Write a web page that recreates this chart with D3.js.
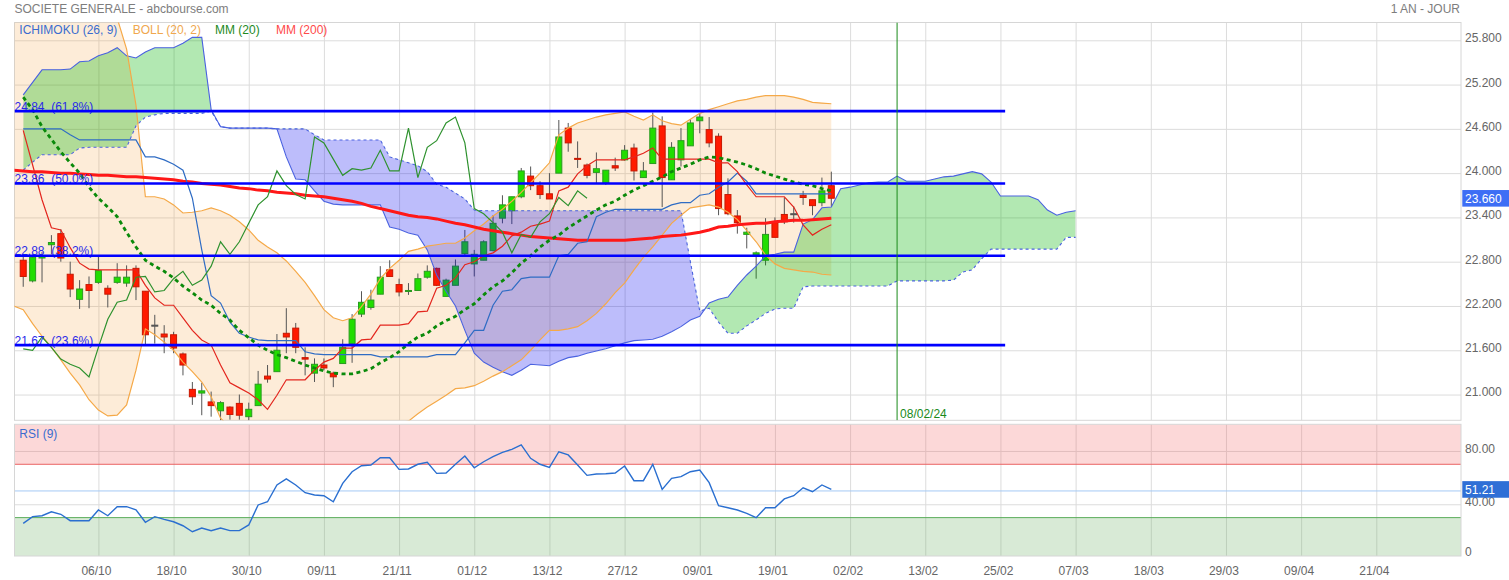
<!DOCTYPE html>
<html><head><meta charset="utf-8">
<script src="https://cdn.jsdelivr.net/npm/d3@7"></script>
<style>
html,body{margin:0;padding:0;background:#fff;}
svg{display:block;font-family:"Liberation Sans",Arial,sans-serif;}
</style></head><body>
<svg id="chart" width="1509" height="580"></svg>
<script>
// ---------------- DATA ----------------
const titleText = "SOCIETE GENERALE - abcbourse.com";
const periodText = "1 AN - JOUR";
const tickLabels = ["06/10","18/10","30/10","09/11","21/11","01/12","13/12","27/12","09/01","19/01","02/02","13/02","25/02","07/03","18/03","29/03","09/04","21/04"];
const tickIndex = [8,16,24,32,40,48,56,64,72,80,88,96,104,112,120,128,136,144];
const priceTicks = [25.8,25.2,24.6,24.0,23.4,22.8,22.2,21.6,21.0];
const rsiTicks = [80,40,0];
const lastPrice = 23.66;
const lastRsi = 51.21;
const markerIndex = 93;
const markerLabel = "08/02/24";
const fibLevels = [24.84,23.86,22.88,21.67];
const fibPct = ["61.8%","50.0%","38.2%","23.6%"];
const fibEndIndex = 104.5;

const open = [22.82,22.54,22.85,23.03,23.18,22.63,22.29,22.49,22.52,22.44,
22.52,22.51,22.71,22.40,21.94,21.82,21.81,21.55,21.07,21.02,
20.90,20.78,20.83,20.88,20.70,20.85,21.25,21.31,21.83,21.90,
21.50,21.29,21.40,21.29,21.42,21.69,22.09,22.18,22.36,22.69,
22.49,22.40,22.41,22.59,22.71,22.33,22.48,22.91,22.77,22.82,
22.95,23.39,23.49,23.68,23.96,23.83,23.72,24.00,24.61,24.20,
24.11,24.01,23.87,24.10,24.18,24.34,23.94,24.13,24.64,23.91,
24.18,24.37,24.71,24.59,24.50,23.71,23.42,23.17,22.89,22.82,
23.33,23.44,23.45,23.70,23.64,23.60,23.83];
const high = [22.88,22.90,22.93,23.16,23.24,22.80,22.55,22.60,22.87,22.48,
22.78,22.75,22.75,22.40,22.08,21.94,21.85,21.57,21.17,21.16,
21.04,20.91,20.84,21.00,20.89,21.32,21.40,21.82,22.17,21.97,
21.64,21.49,21.49,21.31,21.75,22.09,22.40,22.42,22.74,22.82,
22.57,22.51,22.64,22.75,22.72,22.57,22.83,23.23,22.96,23.09,
23.43,23.70,23.68,24.07,24.09,23.89,24.00,24.72,24.68,24.43,
24.13,24.28,24.04,24.21,24.38,24.40,24.15,24.82,24.77,24.42,
24.61,24.73,24.80,24.76,24.54,23.93,23.50,23.26,22.94,23.39,
23.40,23.67,23.55,23.76,23.64,23.94,24.02];
const low = [22.46,22.52,22.52,22.90,22.80,22.32,22.16,22.17,22.50,22.18,
22.50,22.46,22.28,21.67,21.69,21.56,21.56,21.26,20.86,20.72,
20.70,20.65,20.66,20.66,20.65,20.85,21.16,21.31,21.56,21.56,
21.26,21.17,21.33,21.10,21.42,21.43,22.05,22.15,22.36,22.60,
22.33,22.35,22.41,22.57,22.47,22.33,22.48,22.87,22.60,22.82,
22.94,23.32,23.31,23.66,23.77,23.65,23.65,24.00,24.29,24.07,
23.93,23.86,23.84,24.03,24.17,23.90,23.94,24.13,23.54,23.91,
24.09,24.37,24.54,24.35,23.43,23.43,23.18,22.98,22.57,22.75,
23.13,23.31,23.33,23.57,23.43,23.55,23.55];
const close = [22.60,22.86,22.87,23.06,22.85,22.43,22.43,22.41,22.68,22.36,
22.59,22.59,22.46,21.81,21.94,21.78,21.63,21.40,20.97,21.05,
20.85,20.89,20.73,20.72,20.80,21.14,21.21,21.60,21.78,21.64,
21.48,21.41,21.36,21.24,21.64,22.02,22.25,22.28,22.59,22.60,
22.39,22.41,22.57,22.67,22.48,22.55,22.74,23.07,22.90,23.07,
23.32,23.57,23.68,24.03,23.83,23.71,23.65,24.49,24.41,24.19,
23.97,24.06,24.04,24.07,24.31,24.03,24.03,24.61,23.94,24.35,
24.44,24.68,24.76,24.41,23.52,23.45,23.33,23.20,22.92,23.17,
23.13,23.34,23.45,23.67,23.56,23.76,23.66];

const tenkan = [24.58,24.11,23.64,23.26,23.23,22.99,22.78,22.70,22.69,22.69,
22.69,22.69,22.69,22.48,22.31,22.21,22.21,22.04,21.87,21.74,
21.67,21.40,21.16,21.09,21.02,20.93,20.80,20.99,21.20,21.20,
21.20,21.33,21.44,21.49,21.63,21.63,21.74,21.75,21.94,21.94,
21.94,21.96,22.12,22.13,22.44,22.48,22.58,22.76,22.80,22.88,
22.92,23.01,23.15,23.20,23.28,23.31,23.35,23.76,23.81,23.99,
24.10,24.18,24.18,24.18,24.18,24.22,24.27,24.34,24.19,24.19,
24.19,24.19,24.19,24.19,24.14,24.14,24.02,23.84,23.68,23.68,
23.68,23.68,23.54,23.30,23.16,23.24,23.30];
const kijun = [24.60,24.60,24.60,24.60,24.60,24.52,24.45,24.45,24.45,24.45,
24.45,24.45,24.45,24.22,24.22,24.18,24.12,24.04,23.66,22.96,
22.34,22.24,21.98,21.83,21.78,21.74,21.73,21.73,21.73,21.73,
21.58,21.55,21.54,21.54,21.54,21.54,21.54,21.54,21.51,21.51,
21.51,21.51,21.51,21.51,21.54,21.54,21.54,21.70,21.87,21.87,
22.21,22.40,22.42,22.57,22.59,22.59,22.59,22.88,22.90,23.05,
23.07,23.41,23.47,23.51,23.51,23.51,23.51,23.51,23.51,23.57,
23.60,23.60,23.70,23.72,23.81,23.88,24.00,23.89,23.72,23.72,
23.72,23.72,23.72,23.72,23.72,23.72,23.72];
const chikou = [21.62,21.60,21.78,21.64,21.48,21.41,21.36,21.24,21.64,22.02,
22.25,22.28,22.59,22.60,22.39,22.41,22.57,22.67,22.48,22.55,
22.74,23.07,22.90,23.07,23.32,23.57,23.68,24.03,23.83,23.71,
23.65,24.49,24.41,24.19,23.97,24.06,24.04,24.07,24.31,24.03,
24.03,24.61,23.94,24.35,24.44,24.68,24.76,24.41,23.52,23.45,
23.33,23.20,22.92,23.17,23.13,23.34,23.45,23.67,23.56,23.76,
23.66];
const senkouA = [25.06,25.23,25.40,25.40,25.40,25.41,25.51,25.52,25.59,25.63,
25.70,25.59,25.56,25.64,25.70,25.70,25.70,25.76,25.84,25.84,
24.86,24.63,24.61,24.61,24.61,24.61,24.61,24.60,24.22,23.92,
23.91,23.76,23.62,23.58,23.57,23.57,23.57,23.57,23.57,23.27,
23.24,23.19,23.16,22.96,22.62,22.40,22.20,21.87,21.56,21.44,
21.37,21.31,21.26,21.33,21.41,21.40,21.39,21.45,21.50,21.52,
21.56,21.59,21.62,21.66,21.70,21.73,21.74,21.75,21.79,21.85,
21.92,22.01,22.06,22.24,22.29,22.32,22.48,22.62,22.74,22.88,
22.90,22.93,22.93,23.31,23.37,23.53,23.54,23.79,23.81,23.84,
23.87,23.88,23.88,23.96,23.89,23.89,23.89,23.92,23.95,23.96,
23.99,24.02,23.99,23.88,23.69,23.69,23.69,23.69,23.64,23.50,
23.43,23.47,23.49];
const senkouB = [24.04,24.15,24.25,24.25,24.25,24.25,24.34,24.35,24.35,24.35,
24.35,24.35,24.64,24.76,24.79,24.81,24.81,24.81,24.81,24.81,
24.84,24.63,24.61,24.61,24.61,24.61,24.61,24.60,24.60,24.60,
24.60,24.52,24.45,24.45,24.45,24.45,24.45,24.45,24.45,24.22,
24.18,24.14,24.10,24.02,23.85,23.81,23.73,23.65,23.50,23.49,
23.49,23.49,23.49,23.49,23.49,23.49,23.49,23.49,23.49,23.49,
23.49,23.49,23.49,23.49,23.49,23.49,23.49,23.49,23.49,23.49,
23.49,22.80,22.13,22.17,21.98,21.83,21.83,21.93,22.01,22.10,
22.16,22.17,22.17,22.46,22.47,22.47,22.47,22.47,22.47,22.47,
22.47,22.47,22.47,22.54,22.54,22.54,22.54,22.54,22.54,22.55,
22.66,22.69,22.84,22.97,22.97,22.97,22.97,22.97,22.97,22.97,
22.97,23.13,23.13];
// Bollinger bands and MM200 start one bar before the first candle
const bollUpper = [26.6,26.6,26.6,26.55,26.5,26.5,26.45,26.4,26.35,26.3,26.25,26.1,
25.68,24.92,23.68,23.68,23.65,23.57,23.46,23.47,23.49,23.53,
23.49,23.43,23.34,23.23,23.09,23.00,22.92,22.81,22.67,22.52,
22.34,22.15,22.04,22.00,22.04,22.19,22.36,22.57,22.71,22.82,
22.94,22.97,23.01,23.03,23.05,23.05,23.12,23.22,23.31,23.42,
23.51,23.62,23.74,23.87,24.00,24.14,24.52,24.61,24.68,24.72,
24.76,24.79,24.81,24.83,24.77,24.72,24.79,24.71,24.67,24.65,
24.73,24.81,24.86,24.90,24.94,24.98,25.00,25.03,25.05,25.05,
25.05,25.03,25.00,24.96,24.95,24.94];
const bollLower = [22.20,22.15,21.96,21.79,21.64,21.47,21.29,21.13,20.93,20.79,20.71,20.72,
20.86,21.33,21.89,21.81,21.71,21.60,21.44,21.31,21.17,20.97,
20.68,20.55,20.45,20.38,20.32,20.28,20.25,20.22,20.20,20.20,
20.20,20.22,20.25,20.30,20.36,20.42,20.48,20.53,20.58,20.62,
20.64,20.74,20.83,20.91,20.99,21.08,21.09,21.12,21.18,21.25,
21.31,21.39,21.47,21.60,21.74,21.87,21.87,21.89,21.92,22.00,
22.10,22.23,22.38,22.51,22.69,22.86,23.00,23.16,23.32,23.43,
23.53,23.55,23.57,23.54,23.47,23.37,23.22,23.07,22.89,22.77,
22.71,22.69,22.67,22.66,22.63,22.62];
const mm20 = [25.03,24.86,24.63,24.46,24.29,24.14,24.00,23.81,23.66,23.54,
23.41,23.20,23.00,22.82,22.74,22.67,22.58,22.47,22.38,22.28,
22.21,22.10,22.01,21.87,21.77,21.67,21.60,21.54,21.50,21.45,
21.40,21.36,21.32,21.29,21.28,21.28,21.31,21.35,21.43,21.50,
21.58,21.69,21.78,21.83,21.93,22.00,22.06,22.15,22.23,22.35,
22.46,22.54,22.65,22.78,22.88,23.00,23.09,23.16,23.26,23.34,
23.42,23.50,23.57,23.62,23.70,23.77,23.83,23.89,23.95,24.02,
24.07,24.12,24.18,24.22,24.21,24.18,24.15,24.11,24.06,24.00,
23.96,23.92,23.88,23.85,23.83,23.79,23.76];
const mm200 = [24.04,24.03,24.02,24.02,24.01,24.00,24.00,23.99,23.98,23.97,23.97,23.96,
23.95,23.95,23.94,23.93,23.92,23.91,23.89,23.88,23.86,23.85,
23.84,23.82,23.80,23.79,23.77,23.76,23.74,23.73,23.72,23.70,
23.69,23.68,23.66,23.64,23.62,23.59,23.55,23.52,23.49,23.46,
23.43,23.41,23.40,23.38,23.35,23.32,23.30,23.27,23.24,23.22,
23.20,23.18,23.16,23.14,23.13,23.12,23.11,23.10,23.09,23.09,
23.09,23.09,23.09,23.09,23.10,23.11,23.12,23.14,23.15,23.16,
23.18,23.20,23.23,23.27,23.28,23.30,23.31,23.32,23.32,23.34,
23.35,23.36,23.36,23.37,23.38,23.39];
const rsi = [25.7,30.7,31.4,34.4,32.5,27.7,27.7,27.7,35.7,31.4,
38.2,38.2,35.9,26.5,30.7,28.7,26.9,23.9,19.4,22.2,
20.2,22.2,20.2,20.2,24.5,39.5,41.9,54.5,59.0,54.5,
48.7,47.0,46.4,41.9,55.7,64.4,68.9,69.5,74.9,74.9,
66.2,66.5,70.0,71.5,63.2,63.5,70.0,76.2,67.4,71.9,
75.7,79.0,81.2,84.5,74.5,70.0,67.7,79.4,77.0,69.5,
61.7,62.7,62.9,63.5,68.7,57.7,57.7,70.0,51.2,59.5,
60.7,64.4,65.7,56.2,38.9,37.4,35.7,33.2,29.9,37.4,
37.4,44.0,46.4,52.4,49.4,54.5,51.21];
const rsiZones = {over:70, mid:50, under:30};

// ---------------- LAYOUT ----------------
const L=14.5, R=1461, T=22.5, B=420.3;
const RT=424.3, RB=556;
const x = d3.scaleLinear().domain([8,144]).range([98.4,1376.3]);
const y = d3.scaleLinear().domain([21,25.8]).range([394.54,40.3]);
const yr = d3.scaleLinear().domain([0,100]).range([557.6,424.3]);
const FONT = 12;
const svg = d3.select("#chart");
const defs = svg.append("defs");
defs.append("clipPath").attr("id","clipMain").append("rect").attr("x",L).attr("y",T).attr("width",R-L).attr("height",B-T);
defs.append("clipPath").attr("id","clipRsi").append("rect").attr("x",L).attr("y",RT).attr("width",R-L).attr("height",RB-RT);

// titles
svg.append("text").attr("x",14.5).attr("y",12.7).attr("font-size",FONT).attr("fill","#7d7d7d").text(titleText);
svg.append("text").attr("x",1460).attr("y",12.7).attr("text-anchor","end").attr("font-size",FONT).attr("fill","#7d7d7d").text(periodText);

// ---------- grid main ----------
const gridMain = svg.append("g");
gridMain.append("g").attr("transform",`translate(0,${B})`)
  .call(d3.axisBottom(x).tickValues(tickIndex).tickSize(-(B-T)).tickFormat(""))
  .call(g=>g.select(".domain").remove())
  .call(g=>g.selectAll("line").attr("stroke","#dcdcdc"));
gridMain.append("g").attr("transform",`translate(${L},0)`)
  .call(d3.axisRight(y).tickValues(priceTicks).tickSize(R-L).tickFormat(""))
  .call(g=>g.select(".domain").remove())
  .call(g=>g.selectAll("line").attr("stroke","#dcdcdc"));
svg.append("rect").attr("x",L).attr("y",T).attr("width",R-L).attr("height",B-T)
  .attr("fill","none").attr("stroke","#d6d6d6");

const main = svg.append("g").attr("clip-path","url(#clipMain)");

// Bollinger fill
const bIdx = d3.range(bollUpper.length);
main.append("path").datum(bIdx)
  .attr("d", d3.area().x(i=>x(i-1)).y0(i=>y(bollLower[i])).y1(i=>y(bollUpper[i])))
  .attr("fill","rgba(245,160,60,0.2)");

// Candles
const cIdx = d3.range(close.length);
const gC = main.append("g");
gC.selectAll("line").data(cIdx).join("line")
  .attr("x1",i=>x(i)).attr("x2",i=>x(i))
  .attr("y1",i=>y(high[i])).attr("y2",i=>y(low[i]))
  .attr("stroke","#555").attr("stroke-width",1);
gC.selectAll("rect").data(cIdx).join("rect")
  .attr("x",i=>x(i)-3).attr("width",6)
  .attr("y",i=>y(Math.max(open[i],close[i])))
  .attr("height",i=>Math.max(1,Math.abs(y(open[i])-y(close[i]))))
  .attr("fill",i=>close[i]>open[i]?"#22dd00":(close[i]<open[i]?"#ff1a00":"#555"))
  .attr("stroke",i=>close[i]>open[i]?"#2a9a20":(close[i]<open[i]?"#c81800":"#555"))
  .attr("stroke-width",1);

// Ichimoku cloud
const kIdx = d3.range(senkouA.length);
defs.append("clipPath").attr("id","aboveB").append("path").datum(kIdx)
  .attr("d", d3.area().x(i=>x(i)).y0(i=>y(senkouB[i])).y1(0));
defs.append("clipPath").attr("id","aboveA").append("path").datum(kIdx)
  .attr("d", d3.area().x(i=>x(i)).y0(i=>y(senkouA[i])).y1(0));
const cloudArea = d3.area().x(i=>x(i)).y0(i=>y(senkouB[i])).y1(i=>y(senkouA[i]));
main.append("g").attr("clip-path","url(#aboveB)").append("path").datum(kIdx)
  .attr("d",cloudArea).attr("fill","rgba(0,180,0,0.3)");
main.append("g").attr("clip-path","url(#aboveA)").append("path").datum(kIdx)
  .attr("d",cloudArea).attr("fill","rgba(0,0,240,0.26)");
main.append("path").datum(senkouA)
  .attr("d", d3.line().x((d,i)=>x(i)).y(d=>y(d)))
  .attr("fill","none").attr("stroke","#4a62e0").attr("stroke-width",1.1);
main.append("path").datum(senkouB)
  .attr("d", d3.line().x((d,i)=>x(i)).y(d=>y(d)))
  .attr("fill","none").attr("stroke","#4a62e0").attr("stroke-width",1.1).attr("stroke-dasharray","3,3");

// Bollinger lines
const lineOff = off => d3.line().x((d,i)=>x(i+off)).y(d=>y(d));
[bollUpper,bollLower].forEach(arr=>{
  main.append("path").datum(arr).attr("d",lineOff(-1))
    .attr("fill","none").attr("stroke","#f5a948").attr("stroke-width",1.2);
});
// MM200
main.append("path").datum(mm200).attr("d",lineOff(-1))
  .attr("fill","none").attr("stroke","#ff1818").attr("stroke-width",3);
// Kijun, Tenkan, Chikou
main.append("path").datum(kijun).attr("d",lineOff(0))
  .attr("fill","none").attr("stroke","#2f6cc4").attr("stroke-width",1.2);
main.append("path").datum(tenkan).attr("d",lineOff(0))
  .attr("fill","none").attr("stroke","#e3261e").attr("stroke-width",1.2);
main.append("path").datum(chikou).attr("d",lineOff(0))
  .attr("fill","none").attr("stroke","#2f922f").attr("stroke-width",1.2);
// MM20 dashed
main.append("path").datum(mm20).attr("d",lineOff(0))
  .attr("fill","none").attr("stroke","#0a8a0a").attr("stroke-width",2.8).attr("stroke-dasharray","4,3.5");

// Fibonacci levels
fibLevels.forEach((v,k)=>{
  main.append("text").attr("x",L).attr("y",y(v)-0.5).attr("font-size",FONT)
    .attr("fill","#2a2ae8").attr("xml:space","preserve").text(`${v.toFixed(2)}  (${fibPct[k]})`);
  main.append("line").attr("x1",L).attr("x2",x(fibEndIndex)).attr("y1",y(v)).attr("y2",y(v))
    .attr("stroke","#0000ff").attr("stroke-width",2.6);
});

// vertical date marker
main.append("line").attr("x1",x(markerIndex)).attr("x2",x(markerIndex)).attr("y1",T).attr("y2",B)
  .attr("stroke","#1a8a1a").attr("stroke-width",1);
svg.append("text").attr("x",x(markerIndex)+3).attr("y",B-2).attr("font-size",FONT)
  .attr("fill","#1a8a1a").text(markerLabel);

// legend
const legend = [["ICHIMOKU (26, 9)","#3a6ccf",19.3],["BOLL (20, 2)","#f0a84e",132.7],["MM (20)","#1e8a1e",215],["MM (200)","#ff4a4a",276]];
legend.forEach(([t,c,px])=>svg.append("text").attr("x",px).attr("y",34).attr("font-size",FONT).attr("fill",c).text(t));

// right price axis
svg.append("g").attr("transform",`translate(${R},0)`)
  .call(d3.axisRight(y).tickValues(priceTicks).tickSize(0).tickPadding(4).tickFormat(d3.format(".3f")))
  .call(g=>g.select(".domain").remove())
  .call(g=>g.selectAll("text").attr("dy","0.12em").attr("fill","#666").attr("font-size",FONT).attr("font-family","Liberation Sans, Arial, sans-serif"));
svg.append("rect").attr("x",1462.3).attr("y",y(lastPrice)-8.2).attr("width",47).attr("height",16.6).attr("fill","#3d6ef5");
svg.append("text").attr("x",1465).attr("y",y(lastPrice)+4.3).attr("font-size",FONT).attr("fill","#fff").text(lastPrice.toFixed(3));

// ---------- RSI panel ----------
const rsiG = svg.append("g");
rsiG.append("g").attr("transform",`translate(0,${RB})`)
  .call(d3.axisBottom(x).tickValues(tickIndex).tickSize(-(RB-RT)).tickFormat(""))
  .call(g=>g.select(".domain").remove())
  .call(g=>g.selectAll("line").attr("stroke","#dcdcdc"));
rsiG.append("g").attr("transform",`translate(${L},0)`)
  .call(d3.axisRight(yr).tickValues([80,40]).tickSize(R-L).tickFormat(""))
  .call(g=>g.select(".domain").remove())
  .call(g=>g.selectAll("line").attr("stroke","#dcdcdc"));
const rsiC = svg.append("g").attr("clip-path","url(#clipRsi)");
rsiC.append("rect").attr("x",L).attr("width",R-L).attr("y",yr(100)).attr("height",yr(rsiZones.over)-yr(100))
  .attr("fill","rgba(245,100,100,0.25)");
rsiC.append("rect").attr("x",L).attr("width",R-L).attr("y",yr(rsiZones.under)).attr("height",yr(0)-yr(rsiZones.under))
  .attr("fill","rgba(100,170,90,0.25)");
rsiC.append("line").attr("x1",L).attr("x2",R).attr("y1",yr(rsiZones.over)).attr("y2",yr(rsiZones.over)).attr("stroke","#ea6464");
rsiC.append("line").attr("x1",L).attr("x2",R).attr("y1",yr(rsiZones.under)).attr("y2",yr(rsiZones.under)).attr("stroke","#5aad5a");
rsiC.append("line").attr("x1",L).attr("x2",R).attr("y1",yr(rsiZones.mid)).attr("y2",yr(rsiZones.mid)).attr("stroke","#a4c9f5");
rsiC.append("path").datum(rsi).attr("d",d3.line().x((d,i)=>x(i)).y(d=>yr(d)))
  .attr("fill","none").attr("stroke","#2a6fd0").attr("stroke-width",1.4);
svg.append("rect").attr("x",L).attr("y",RT).attr("width",R-L).attr("height",RB-RT)
  .attr("fill","none").attr("stroke","#d6d6d6");
svg.append("text").attr("x",19.3).attr("y",437.5).attr("font-size",FONT).attr("fill","#3a6ccf").text("RSI (9)");
svg.append("g").attr("transform",`translate(${R},0)`)
  .call(d3.axisRight(yr).tickValues(rsiTicks).tickSize(0).tickPadding(4).tickFormat(d=>d===0?"0":d3.format(".2f")(d)))
  .call(g=>g.select(".domain").remove())
  .call(g=>g.selectAll("text").attr("dy",d=>d===0?"-0.15em":"0.12em").attr("fill","#666").attr("font-size",FONT).attr("font-family","Liberation Sans, Arial, sans-serif"));
svg.append("rect").attr("x",1462.3).attr("y",yr(lastRsi)-8.2).attr("width",47).attr("height",16.6).attr("fill","#2f6fd6");
svg.append("text").attr("x",1465).attr("y",yr(lastRsi)+4.3).attr("font-size",FONT).attr("fill","#fff").text(lastRsi.toFixed(2));

// x axis labels
svg.append("g").attr("transform",`translate(0,${RB})`)
  .call(d3.axisBottom(x).tickValues(tickIndex).tickSize(0).tickPadding(10).tickFormat((d,i)=>tickLabels[i]))
  .call(g=>g.select(".domain").remove())
  .call(g=>g.selectAll("text").attr("dx","-2.5").attr("fill","#666").attr("font-size",FONT).attr("font-family","Liberation Sans, Arial, sans-serif"));
</script>
</body></html>
